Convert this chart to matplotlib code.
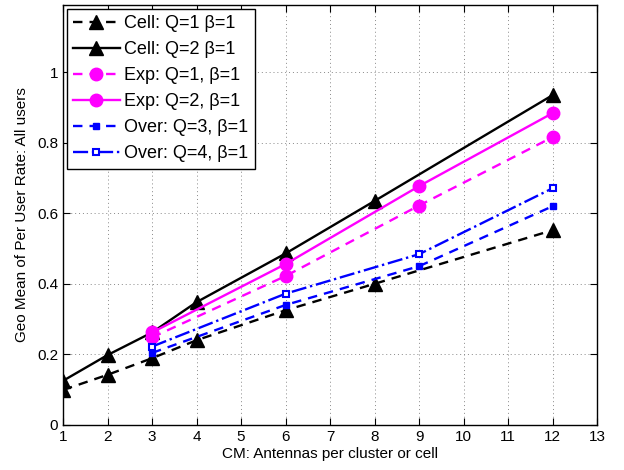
import matplotlib.pyplot as plt
import numpy as np

plt.rcParams['font.family'] = ['Liberation Sans', 'DejaVu Sans']

# data
x_cell = [1, 2, 3, 4, 6, 8, 12]
cell_q1 = [0.099, 0.142, 0.189, 0.24, 0.325, 0.40, 0.552]
cell_q2 = [0.125, 0.198, 0.262, 0.348, 0.486, 0.635, 0.935]

x_other = [3, 6, 9, 12]
exp_q1 = [0.248, 0.422, 0.622, 0.816]
exp_q2 = [0.262, 0.456, 0.677, 0.884]
over_q3 = [0.204, 0.340, 0.450, 0.620]
over_q4 = [0.222, 0.372, 0.484, 0.671]

labels = ['Cell: Q=1 \u03b2=1', 'Cell: Q=2 \u03b2=1',
          'Exp: Q=1, \u03b2=1', 'Exp: Q=2, \u03b2=1',
          'Over: Q=3, \u03b2=1', 'Over: Q=4, \u03b2=1']

fig = plt.figure(figsize=(6.24, 4.70), dpi=100)
ax = fig.add_axes([0.101, 0.096, 0.856, 0.893])

mag = '#ff00ff'
ax.plot(x_cell, cell_q1, 'k--^', lw=1.7, ms=10, dashes=(4, 3), label=labels[0])
ax.plot(x_cell, cell_q2, 'k-^', lw=1.7, ms=10, label=labels[1])
ax.plot(x_other, exp_q1, '--o', color=mag, lw=1.7, ms=9, dashes=(4, 3), label=labels[2])
ax.plot(x_other, exp_q2, '-o', color=mag, lw=1.7, ms=9, label=labels[3])
ax.plot(x_other, over_q3, '--s', color='blue', lw=1.7, ms=5, dashes=(4, 3), label=labels[4])
ax.plot(x_other, over_q4, '-.s', color='blue', lw=1.7, ms=5, mfc='white', mew=1.5, label=labels[5])

ax.set_xlim(1, 13)
ax.set_ylim(0, 1.19)
ax.set_xticks(np.arange(1, 14))
ax.set_yticks([0, 0.2, 0.4, 0.6, 0.8, 1])
ax.set_yticklabels(['0', '0.2', '0.4', '0.6', '0.8', '1'])
ax.tick_params(direction='in', top=True, right=True, labelsize=11, length=5)
ax.grid(True, linestyle=(0, (1, 3)), color='#888888', lw=0.7)
for s in ax.spines.values():
    s.set_linewidth(1.0)

ax.set_xlabel('CM: Antennas per cluster or cell', fontsize=11, labelpad=2)
ax.set_ylabel('Geo Mean of Per User Rate: All users', fontsize=11, labelpad=6)

leg = ax.legend(loc='upper left', fontsize=13, frameon=True, fancybox=False,
                edgecolor='black', framealpha=1, handlelength=2.6,
                borderaxespad=0.2, labelspacing=0.5, handletextpad=0.25,
                borderpad=0.35)
leg.get_frame().set_linewidth(1.0)

fig.savefig('out.png', dpi=100)
